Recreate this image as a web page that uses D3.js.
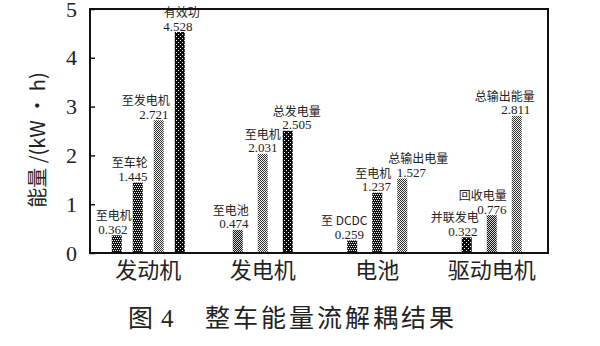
<!DOCTYPE html>
<html>
<head>
<meta charset="utf-8">
<script src="https://cdn.jsdelivr.net/npm/d3@7"></script>
<style>
  body { margin: 0; background: #fff; }
  svg { display: block; }
</style>
</head>
<body>
<svg id="chart" width="600" height="346"></svg>
<script>
// Energy-flow decoupling data (kW·h), one pair of arrays per component
const groups = ["发动机", "发电机", "电池", "驱动电机"];

const engineItems = ["至电机", "至车轮", "至发电机", "有效功"];
const engineValues = [0.362, 1.445, 2.721, 4.528];

const generatorItems = ["至电池", "至电机", "总发电量"];
const generatorValues = [0.474, 2.031, 2.505];

const batteryItems = ["至 DCDC", "至电机", "总输出电量"];
const batteryValues = [0.259, 1.237, 1.527];

const motorItems = ["并联发电", "回收电量", "总输出能量"];
const motorValues = [0.322, 0.776, 2.811];

const yTicks = [0, 1, 2, 3, 4, 5];

// Fill texture for each bar, in the same order as the groups above
const barTextures = [
  ["dark", "dark", "light", "darker"],
  ["mid", "light", "darker"],
  ["dark", "dark", "light"],
  ["darker", "mid", "light"]
];

// Small horizontal nudges for the annotations: [name dx, value dx]
const labelNudges = [
  [[-3, -4], [-8, -5], [-13, -5], [2, -2]],
  [[-7, -4], [0, 0], [9, 9]],
  [[-8, -3], [-4, -1], [16, 9]],
  [[-12, -4], [-9, 0], [-12, -1]]
];

const itemLists = [engineItems, generatorItems, batteryItems, motorItems];
const valueLists = [engineValues, generatorValues, batteryValues, motorValues];

const svg = d3.select("#chart");
const plot = { left: 90, right: 548, top: 9, bottom: 253 };

// Dithered textures built from single-pixel dots
const defs = svg.append("defs");
function texture(id, size, bg, dots, dotColor) {
  const p = defs.append("pattern")
    .attr("id", id).attr("patternUnits", "userSpaceOnUse")
    .attr("width", size).attr("height", size);
  p.append("rect").attr("width", size).attr("height", size).attr("fill", bg);
  dots.forEach(([dx, dy]) => p.append("rect")
    .attr("x", dx).attr("y", dy).attr("width", 1).attr("height", 1)
    .attr("fill", dotColor));
}
texture("tex-darker", 4, "#0c0c0c", [[0, 0], [2, 2]], "#fff");
texture("tex-dark", 4, "#111", [[0, 0], [2, 0], [1, 2], [3, 2]], "#f2f2f2");
texture("tex-mid", 2, "#111", [[0, 0], [1, 1]], "#d8d8d8");
texture("tex-light", 2, "#f4f4f4", [[0, 0], [1, 1]], "#2e2e2e");

const y = d3.scaleLinear().domain([0, 5]).range([plot.bottom, plot.top]);
const x = d3.scaleBand().domain(groups).range([plot.left + 1, plot.right + 1]);

const barWidth = 10;

groups.forEach((g, gi) => {
  const items = itemLists[gi];
  const values = valueLists[gi];
  const n = items.length;
  const slot = n === 4 ? 21 : 25;
  const c = x(g) + x.bandwidth() / 2;
  const inner = d3.scalePoint()
    .domain(d3.range(n))
    .range([c - n * slot / 2, c + n * slot / 2])
    .padding(0.5);

  const gSel = svg.append("g");
  gSel.selectAll("rect")
    .data(values)
    .join("rect")
    .attr("x", (d, i) => inner(i) - barWidth / 2)
    .attr("y", d => y(d))
    .attr("width", barWidth)
    .attr("height", d => y(0) - y(d))
    .attr("fill", (d, i) => `url(#tex-${barTextures[gi][i]})`);

  const labels = gSel.selectAll("g.lbl")
    .data(values)
    .join("g")
    .attr("class", "lbl");

  labels.append("text")
    .attr("x", (d, i) => inner(i) + labelNudges[gi][i][1])
    .attr("y", d => y(d) - 1.5)
    .attr("text-anchor", "middle")
    .attr("font-family", "'Liberation Serif', 'Times New Roman', serif")
    .attr("font-size", 13)
    .attr("fill", "#222")
    .text(d => d.toFixed(3));

  labels.append("text")
    .attr("x", (d, i) => inner(i) + labelNudges[gi][i][0])
    .attr("y", d => y(d) - 15)
    .attr("text-anchor", "middle")
    .attr("font-family", "'Noto Sans CJK SC', sans-serif")
    .attr("font-size", 12)
    .attr("fill", "#222")
    .text((d, i) => items[i]);
});

// Frame
svg.append("rect")
  .attr("x", plot.left).attr("y", plot.top)
  .attr("width", plot.right - plot.left)
  .attr("height", plot.bottom - plot.top)
  .attr("fill", "none").attr("stroke", "#111").attr("stroke-width", 2);

// Left axis with inward ticks
const yAxis = svg.append("g")
  .attr("transform", `translate(${plot.left},0)`)
  .call(d3.axisLeft(y).tickValues(yTicks).tickSize(-5).tickPadding(13).tickFormat(d3.format("d")));
yAxis.select(".domain").remove();
yAxis.selectAll(".tick line").attr("stroke", "#111").attr("stroke-width", 1.5);
yAxis.selectAll(".tick text")
  .attr("font-family", "'Liberation Serif', 'Times New Roman', serif")
  .attr("font-size", 22)
  .attr("fill", "#222");

// Category labels
svg.append("g").selectAll("text")
  .data(groups)
  .join("text")
  .attr("x", d => x(d) + x.bandwidth() / 2)
  .attr("y", 278)
  .attr("text-anchor", "middle")
  .attr("font-family", "'Noto Sans CJK SC', sans-serif")
  .attr("font-size", 22)
  .attr("fill", "#222")
  .text(d => d);

// Y axis title
svg.append("text")
  .attr("transform", "translate(45,140) rotate(-90)")
  .attr("text-anchor", "middle")
  .attr("font-family", "'Noto Sans CJK SC', sans-serif")
  .attr("font-size", 20)
  .attr("fill", "#222")
  .text("能量 /(kW · h)");

// Figure caption
const caption = svg.append("g")
  .attr("font-family", "'Noto Sans CJK SC', sans-serif")
  .attr("font-size", 25)
  .attr("fill", "#222");
caption.append("text").attr("x", 128).attr("y", 327).text("图");
caption.append("text").attr("x", 161).attr("y", 327)
  .attr("font-family", "'Liberation Serif', serif").text("4");
caption.append("text").attr("x", 205).attr("y", 327)
  .attr("letter-spacing", 3)
  .text("整车能量流解耦结果");
</script>
</body>
</html>
